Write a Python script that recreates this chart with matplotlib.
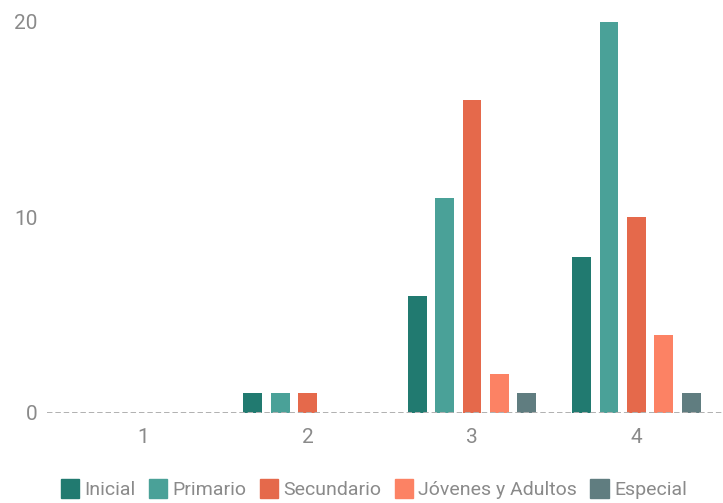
import matplotlib
matplotlib.use("Agg")
import matplotlib.pyplot as plt
from matplotlib.patches import Patch
import numpy as np

categories = ["1", "2", "3", "4"]
series_names = ["Inicial", "Primario", "Secundario", "Jóvenes y Adultos", "Especial"]
inicial = [0, 1, 6, 8]
primario = [0, 1, 11, 20]
secundario = [0, 1, 16, 10]
jovenes = [0, 0, 2, 4]
especial = [0, 0, 1, 1]
yticks = [0, 10, 20]

colors = ["#217a70", "#4aa198", "#e5694b", "#fc8264", "#607d80"]
values = [inicial, primario, secundario, jovenes, especial]

fam = ["Roboto", "DejaVu Sans"]
plt.rcParams['font.family'] = fam
txt = "#8a8a8a"

W, H = 723, 503
fig = plt.figure(figsize=(W/100, H/100), dpi=100)
ax = fig.add_axes([47/W, (H-413)/H, (W-47)/W, (413-22)/H])

x = np.arange(len(categories))
step = 0.167
bw = 0.115
for i, (name, vals, c) in enumerate(zip(series_names, values, colors)):
    ax.bar(x + (i-2)*step, vals, width=bw, color=c, label=name, zorder=2)

ax.set_xlim(-0.584, 3.526)
ax.set_ylim(0, 20)
ax.axhline(0, color="#b0b0b0", linestyle=(0, (2.8, 1.5)), linewidth=1.4, zorder=3)
for s in ax.spines.values():
    s.set_visible(False)
ax.set_xticks(x)
ax.set_xticklabels(categories)
ax.set_yticks(yticks)
ax.tick_params(length=0, colors=txt, labelsize=15)
ax.tick_params(axis='x', pad=11)
ax.tick_params(axis='y', pad=7)

handles = [Patch(color=c) for c in colors]
leg = fig.legend(handles, series_names, loc="center", bbox_to_anchor=(0.517, 1-489/H),
                 ncol=5, frameon=False, fontsize=14, handlelength=0.95, handleheight=1.1,
                 handletextpad=0.27, columnspacing=0.68, labelcolor=txt)

fig.savefig("out.png", dpi=100)
